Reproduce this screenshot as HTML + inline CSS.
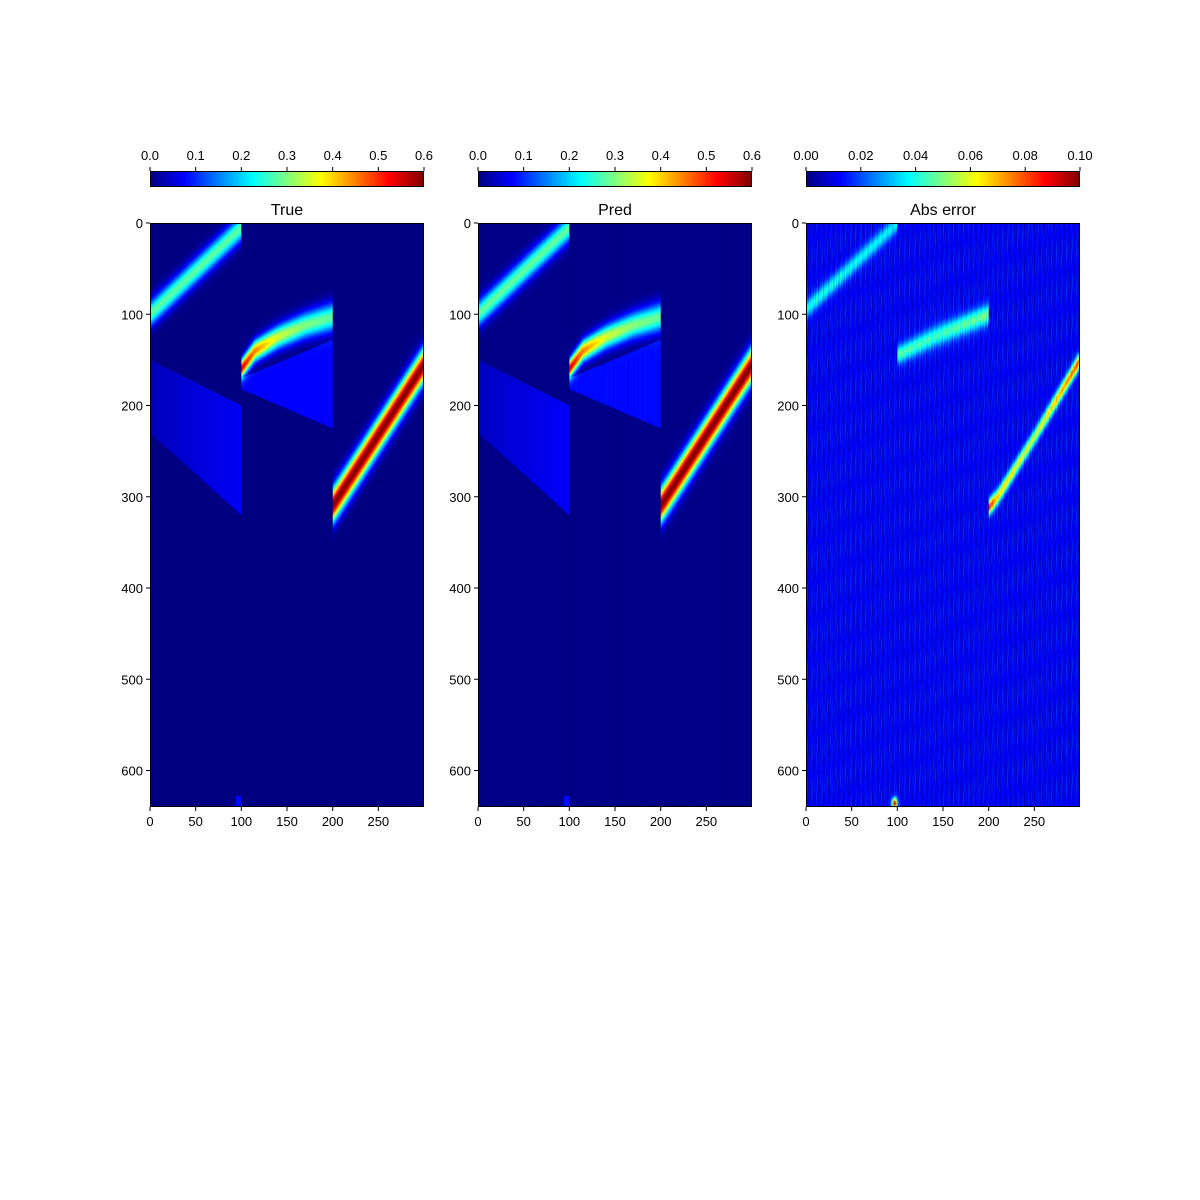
<!DOCTYPE html>
<html><head><meta charset="utf-8"><style>
body{margin:0;background:#fff;width:1200px;height:1200px;position:relative;font-family:"Liberation Sans","DejaVu Sans",sans-serif;overflow:hidden}
canvas{position:absolute;image-rendering:auto}
svg{position:absolute;left:0;top:0}
</style></head><body>
<canvas id="c0" width="300" height="640" style="left:150px;top:223px;width:274px;height:584px"></canvas>
<canvas id="c1" width="300" height="640" style="left:478px;top:223px;width:274px;height:584px"></canvas>
<canvas id="c2" width="300" height="640" style="left:806px;top:223px;width:274px;height:584px"></canvas>
<canvas id="cb0" width="274" height="1" style="left:150px;top:171px;width:274px;height:16px"></canvas>
<canvas id="cb1" width="274" height="1" style="left:478px;top:171px;width:274px;height:16px"></canvas>
<canvas id="cb2" width="274" height="1" style="left:806px;top:171px;width:274px;height:16px"></canvas>
<svg id="ov" width="1200" height="1200"></svg>
<script>
// ---- data ----
const panelTitles = ["True","Pred","Abs error"];
const panelVmax = [0.6,0.6,0.1];
const panelBase = [0.0,0.004,0.011];
const cbTicks = [[0,0.1,0.2,0.3,0.4,0.5,0.6],[0,0.1,0.2,0.3,0.4,0.5,0.6],[0,0.02,0.04,0.06,0.08,0.1]];
const cbTickLabels = [["0.0","0.1","0.2","0.3","0.4","0.5","0.6"],["0.0","0.1","0.2","0.3","0.4","0.5","0.6"],["0.00","0.02","0.04","0.06","0.08","0.10"]];
const xTicks = [0,50,100,150,200,250];
const yTicks = [0,100,200,300,400,500,600];
// bands: x knots, center y, peak value, sigma
const bandAx = [0,100], bandAy = [100,5], bandAv = [0.28,0.28], bandAs = [10,10];
const bandBx = [100,115,140,170,200], bandBy = [160,140,125,112,103], bandBv = [0.55,0.45,0.35,0.3,0.28], bandBs = [7,8,9,10,11];
const bandCx = [200,300], bandCy = [310,155], bandCv = [0.6,0.6], bandCs = [13,13];
// regions: polygon [x,y] and value
const regionA = [[0,150],[100,200],[100,320],[0,230]], regionAv = 0.07;
const regionB = [[100,170],[200,128],[200,225],[100,182]], regionBv = 0.075;
const regionC = [[94,628],[100,628],[100,640],[94,640]], regionCv = 0.08;
// error bands
const errAx = [0,100], errAy = [95,0], errAv = [0.028,0.025], errAs = [7,7];
const errBx = [100,140,200], errBy = [145,125,100], errBv = [0.035,0.032,0.038], errBs = [7,8,8];
const errCx = [200,210,250,300], errCy = [312,300,235,150], errCv = [0.075,0.055,0.045,0.07], errCs = [6,6,6,6];
const errSpot = [[97,636,0.08]];

function jet(t){t=Math.max(0,Math.min(1,t));const c=v=>Math.round(255*Math.max(0,Math.min(1,v)));
 return [c(1.5-Math.abs(4*t-3)),c(1.5-Math.abs(4*t-2)),c(1.5-Math.abs(4*t-1))];}
function interp(xs,vs,x){if(x<=xs[0])return vs[0];for(let i=1;i<xs.length;i++){if(x<=xs[i]){const f=(x-xs[i-1])/(xs[i]-xs[i-1]);return vs[i-1]+f*(vs[i]-vs[i-1]);}}return vs[vs.length-1];}
function bandVal(bx,by,bv,bs,x,y){if(x<bx[0]||x>bx[bx.length-1])return 0;const c=interp(bx,by,x),p=interp(bx,bv,x),s=interp(bx,bs,x);return p*Math.exp(-0.5*((y-c)/s)**2);}
function inPoly(p,x,y){let ins=false;for(let i=0,j=p.length-1;i<p.length;j=i++){const xi=p[i][0],yi=p[i][1],xj=p[j][0],yj=p[j][1];if(((yi>y)!=(yj>y))&&(x<(xj-xi)*(y-yi)/(yj-yi)+xi))ins=!ins;}return ins;}
function stripe(x){return Math.sin(x*1.7)*Math.sin(x*0.53+1)*0.5;}

function field(k,x,y){
 if(k<2){let v=panelBase[k];
  v+=bandVal(bandAx,bandAy,bandAv,bandAs,x,y)+bandVal(bandBx,bandBy,bandBv,bandBs,x,y)+bandVal(bandCx,bandCy,bandCv,bandCs,x,y);
  if(inPoly(regionA,x,y))v+=regionAv*(0.5+0.5*x/100);
  if(inPoly(regionB,x,y))v+=regionBv;
  if(inPoly(regionC,x,y))v+=regionCv;
  if(k==1)v+=0.008*stripe(x);
  return v;}
 let v=panelBase[2]+0.008*stripe(x)+0.004*Math.sin(y*0.15+x*2.3);
 v+=bandVal(errAx,errAy,errAv,errAs,x,y)+bandVal(errBx,errBy,errBv,errBs,x,y)+bandVal(errCx,errCy,errCv,errCs,x,y);
 errSpot.forEach(s=>{v+=s[2]*Math.exp(-(((x-s[0])/3)**2+((y-s[1])/6)**2));});
 return v;}

for(let k=0;k<3;k++){
 const cv=document.getElementById('c'+k),ctx=cv.getContext('2d'),im=ctx.createImageData(300,640);
 for(let y=0;y<640;y++)for(let x=0;x<300;x++){const c=jet(field(k,x+0.5,y+0.5)/panelVmax[k]);const i=(y*300+x)*4;im.data[i]=c[0];im.data[i+1]=c[1];im.data[i+2]=c[2];im.data[i+3]=255;}
 ctx.putImageData(im,0,0);
 const cb=document.getElementById('cb'+k),cc=cb.getContext('2d'),ci=cc.createImageData(274,1);
 for(let x=0;x<274;x++){const c=jet(x/273);ci.data[x*4]=c[0];ci.data[x*4+1]=c[1];ci.data[x*4+2]=c[2];ci.data[x*4+3]=255;}
 cc.putImageData(ci,0,0);
}
// overlay axes
const NS='http://www.w3.org/2000/svg',ov=document.getElementById('ov');
function mk(t,a,txt){const e=document.createElementNS(NS,t);for(const k in a)e.setAttribute(k,a[k]);if(txt!==undefined)e.textContent=txt;ov.appendChild(e);return e;}
const lefts=[150,478,806],W=274,T=223,H=584;
for(let k=0;k<3;k++){
 const L=lefts[k];
 const sx=v=>L+v*W/300, sy=v=>T+v*H/640, cx=v=>L+v/panelVmax[k]*W;
 let e=mk('rect',{x:L+0.5,y:T+0.5,width:W-1,height:H-1,fill:'none',stroke:'#000','stroke-width':1});
 
 e=mk('rect',{x:L+0.5,y:171.5,width:W-1,height:15,fill:'none',stroke:'#000','stroke-width':1});
 
 e=mk('text',{x:L+W/2,y:215,'text-anchor':'middle','font-size':16,fill:'#000'},panelTitles[k]);
 
 xTicks.forEach(v=>{mk('line',{x1:sx(v),x2:sx(v),y1:T+H,y2:T+H+4,stroke:'#000'});
  e=mk('text',{x:sx(v),y:T+H+19,'text-anchor':'middle','font-size':13,fill:'#000'},String(v));
  });
 yTicks.forEach(v=>{mk('line',{x1:L-4,x2:L,y1:sy(v),y2:sy(v),stroke:'#000'});
  e=mk('text',{x:L-7,y:sy(v)+5,'text-anchor':'end','font-size':13,fill:'#000'},String(v));
  });
 cbTicks[k].forEach((v,i)=>{mk('line',{x1:cx(v),x2:cx(v),y1:167,y2:171,stroke:'#000'});
  e=mk('text',{x:cx(v),y:160,'text-anchor':'middle','font-size':13,fill:'#000'},cbTickLabels[k][i]);
  });
}
</script>
</body></html>
